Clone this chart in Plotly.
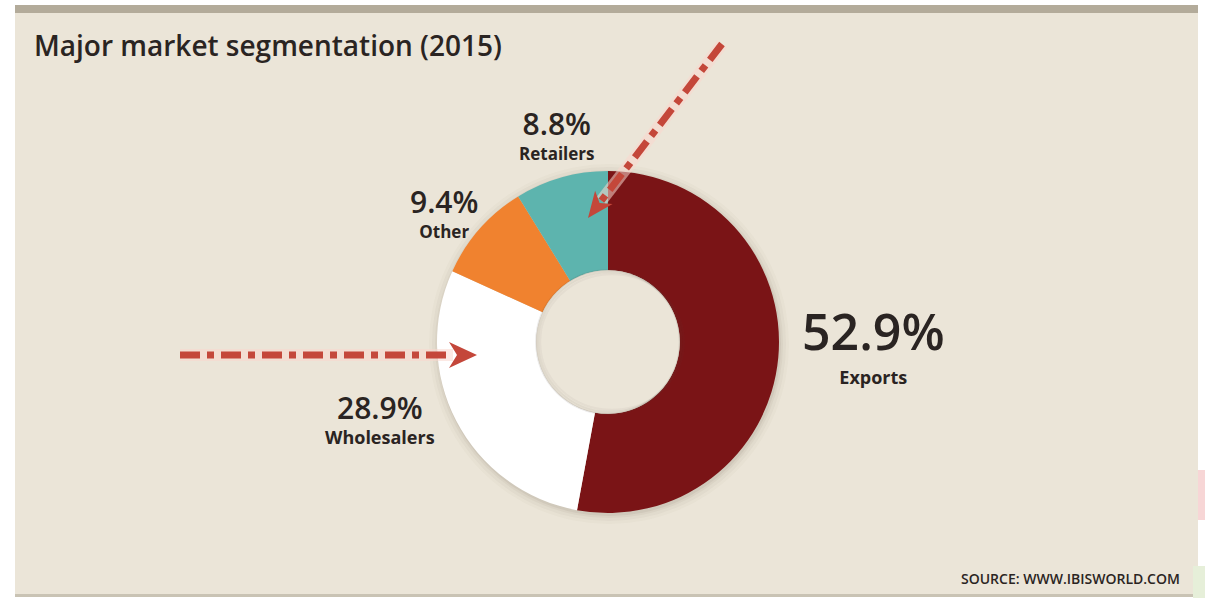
import math
import plotly.graph_objects as go

# Market segments, in drawing order (clockwise from 12 o'clock)
segments = ["Exports", "Wholesalers", "Other", "Retailers"]
shares = [52.9, 28.9, 9.4, 8.8]
colors = ["#7a1416", "#ffffff", "#f0822f", "#5db4ae"]

title = "Major market segmentation (2015)"
source = "SOURCE: WWW.IBISWORLD.COM"

W, H = 1205, 598
BG = "#ebe5d8"
INK = "#2a2422"
ARROW = "#c4473a"
FONT = "Open Sans"

# donut geometry in pixels
cx, cy, R = 608, 342, 171
hole = 0.42
r_in = R * hole

fig = go.Figure()

# empty trace so the pixel-space cartesian axes exist for shapes/annotations
fig.add_trace(go.Scatter(x=[0, W], y=[0, H], mode="markers", marker=dict(opacity=0),
                         hoverinfo="skip", showlegend=False))

fig.add_trace(go.Pie(
    labels=segments,
    values=shares,
    marker=dict(colors=colors, line=dict(width=0)),
    hole=hole,
    sort=False,
    direction="clockwise",
    rotation=0,
    textinfo="none",
    hoverinfo="label+percent",
    showlegend=False,
    domain=dict(x=[(cx - R) / W, (cx + R) / W], y=[1 - (cy + R) / H, 1 - (cy - R) / H]),
))

shapes = []
# page panel and top band
shapes.append(dict(type="rect", x0=15, x1=1198, y0=5, y1=596, fillcolor=BG, line_width=0, layer="below"))
shapes.append(dict(type="rect", x0=15, x1=1198, y0=5, y1=13, fillcolor="#b3ab9a", line_width=0, layer="below"))
shapes.append(dict(type="rect", x0=15, x1=1198, y0=594, y1=597, fillcolor="#c9c3b4", line_width=0, layer="below"))
shapes.append(dict(type="rect", x0=1198, x1=1205, y0=470, y1=520, fillcolor="#f7d6d6", line_width=0, layer="below"))
shapes.append(dict(type="rect", x0=1193, x1=1205, y0=566, y1=598, fillcolor="#e6efd9", line_width=0, layer="below"))

# soft shadow around the donut
for d, op in [(9, 0.025), (6, 0.035), (3, 0.05), (1, 0.07)]:
    shapes.append(dict(type="circle", x0=cx - R - d + 1, x1=cx + R + d + 1, y0=cy - R - d + 2, y1=cy + R + d + 2,
                       fillcolor="rgba(90,70,50,%.3f)" % op, line_width=0, layer="below"))

# hole showing the panel, with a faint inner shade on its upper-left rim
shapes.append(dict(type="circle", x0=cx - r_in, x1=cx + r_in, y0=cy - r_in, y1=cy + r_in,
                   fillcolor=BG, line_width=0, layer="above"))
for d, op in [(1, 0.12), (3, 0.08), (5, 0.05)]:
    shapes.append(dict(type="circle", x0=cx - r_in + d - 1, x1=cx + r_in + d - 1, y0=cy - r_in + d - 1,
                       y1=cy + r_in + d - 1 - 2 * d + 2,
                       fillcolor="rgba(0,0,0,0)", line=dict(color="rgba(90,80,70,%.2f)" % op, width=2),
                       layer="above"))


def dash_arrow(x0, y0, x1, y1, head=28, half=13, notch=8):
    """Dash-dot shaft ending in a chevron head at (x1, y1)."""
    L = math.hypot(x1 - x0, y1 - y0)
    ux, uy = (x1 - x0) / L, (y1 - y0) / L
    px_, py_ = -uy, ux
    bx, by = x1 - ux * head, y1 - uy * head
    # light halo under the shaft
    shapes.append(dict(type="line", x0=x0, y0=y0, x1=bx + ux * 4, y1=by + uy * 4,
                       line=dict(color="rgba(250,215,205,0.55)", width=12), layer="above"))
    shapes.append(dict(type="line", x0=x0, y0=y0, x1=bx + ux * 4, y1=by + uy * 4,
                       line=dict(color=ARROW, width=7, dash="20px,7px,7px,7px"), layer="above"))
    p1 = (bx + px_ * half, by + py_ * half)
    p2 = (bx - px_ * half, by - py_ * half)
    pn = (bx + ux * notch, by + uy * notch)
    path = "M %.1f %.1f L %.1f %.1f L %.1f %.1f L %.1f %.1f Z" % (p1[0], p1[1], x1, y1, p2[0], p2[1], pn[0], pn[1])
    shapes.append(dict(type="path", path=path, fillcolor=ARROW, line_width=0, layer="above"))


dash_arrow(180, 355, 477, 355)
dash_arrow(722, 44, 588, 218, head=26, half=11, notch=7)

for s in shapes:
    s["xref"] = "x"
    s["yref"] = "y"
fig.update_layout(shapes=shapes)

annotations = []


def label(x, y, pct, name, size_pct, size_name, line_gap):
    """Two-line label: large share value above the bold segment name."""
    text = ("<span style='font-size:%dpx;font-weight:600'>%.1f%%</span><br>"
            "<span style='font-size:%dpx;font-weight:700'>%s</span>") % (size_pct, pct, size_name, name)
    annotations.append(dict(x=x, y=y, text=text, showarrow=False,
                            font=dict(family=FONT, size=line_gap / 1.3, color=INK),
                            xanchor="center", yanchor="middle", align="center"))


label(873, 343, shares[0], segments[0], 50, 18, 34)
label(380, 418, shares[1], segments[1], 30, 18, 25)
label(444, 212, shares[2], segments[2], 30, 17, 25)
label(557, 134, shares[3], segments[3], 30, 17, 25)

annotations.append(dict(x=32, y=45, text=title, showarrow=False, xanchor="left", yanchor="middle",
                        font=dict(family=FONT, size=28, color=INK, weight=600)))
annotations.append(dict(x=1182, y=578, text=source, showarrow=False, xanchor="right", yanchor="middle",
                        font=dict(family=FONT, size=14, color=INK, weight=600)))

for a in annotations:
    a["xref"] = "x"
    a["yref"] = "y"
fig.update_layout(annotations=annotations)

# a hidden pixel-space axis pair spanning the whole page
fig.update_layout(
    width=W, height=H,
    margin=dict(l=0, r=0, t=0, b=0),
    paper_bgcolor="#ffffff",
    plot_bgcolor="rgba(0,0,0,0)",
    xaxis=dict(range=[0, W], visible=False, fixedrange=True, domain=[0, 1]),
    yaxis=dict(range=[H, 0], visible=False, fixedrange=True, domain=[0, 1]),
)

fig.write_html("out.html")
